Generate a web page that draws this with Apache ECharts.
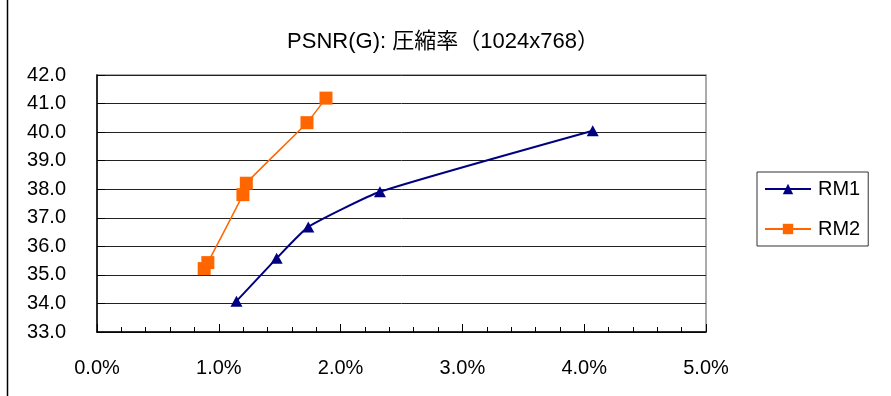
<!DOCTYPE html>
<html>
<head>
<meta charset="utf-8">
<script src="https://cdn.jsdelivr.net/npm/echarts@6/dist/echarts.min.js"></script>
<style>
  html, body { margin: 0; padding: 0; background: #fff; }
  #chart { width: 891px; height: 396px; }
</style>
</head>
<body>
<div id="chart"></div>
<script>
// Compression rate (%) and PSNR of the G channel (dB) for two methods
const rm1Rate = [1.145, 1.475, 1.735, 2.323, 4.07];
const rm1Psnr = [34.08, 35.58, 36.68, 37.91, 40.05];
const rm2Rate = [0.88, 0.91, 1.198, 1.226, 1.724, 1.88];
const rm2Psnr = [35.22, 35.43, 37.81, 38.21, 40.33, 41.19];
const seriesNames = ['RM1', 'RM2'];
const titleText = 'PSNR(G): 圧縮率（1024x768）';

const pairs = (xs, ys) => xs.map((x, i) => [x, ys[i]]);
const baseFont = '"Liberation Sans", Arial, "Noto Sans CJK JP", sans-serif';

const chart = echarts.init(document.getElementById('chart'), null, { renderer: 'canvas' });
chart.setOption({
  animation: false,
  backgroundColor: '#fff',
  title: {
    text: titleText,
    left: 438,
    top: 26,
    textAlign: 'center',
    textStyle: {
      fontFamily: '"Liberation Sans", "Noto Sans CJK JP", sans-serif',
      fontWeight: 'normal',
      fontSize: 22,
      color: '#000'
    }
  },
  grid: {
    left: 97, top: 75, right: 185, bottom: 64,
    show: true, borderColor: '#909090', borderWidth: 1.5, backgroundColor: 'transparent'
  },
  legend: {
    orient: 'vertical',
    left: 757, top: 172,
    width: 111,
    padding: [7, 8, 7, 7],
    itemWidth: 46, itemHeight: 13, itemGap: 20,
    borderColor: '#333', borderWidth: 1,
    textStyle: { fontFamily: baseFont, fontSize: 20, color: '#000', padding: [0, 0, 0, 2] },
    data: seriesNames
  },
  xAxis: {
    type: 'value', min: 0, max: 5, interval: 1,
    axisLine: { show: true, lineStyle: { color: '#000', width: 1.5 } },
    axisTick: { show: true, inside: true, length: 8, lineStyle: { color: '#000' } },
    minorTick: { show: true, splitNumber: 5, length: 5, lineStyle: { color: '#000' } },
    splitLine: { show: false },
    axisLabel: {
      margin: 26, fontFamily: baseFont, fontSize: 20, color: '#000',
      formatter: v => v.toFixed(1) + '%'
    }
  },
  yAxis: {
    type: 'value', min: 33, max: 42, interval: 1,
    axisLine: { show: true, lineStyle: { color: '#000', width: 1.5 } },
    axisTick: { show: true, inside: true, length: 8, lineStyle: { color: '#000' } },
    splitLine: { show: true, lineStyle: { color: '#222', width: 1 } },
    axisLabel: {
      margin: 31, fontFamily: baseFont, fontSize: 20, color: '#000',
      formatter: v => v.toFixed(1)
    }
  },
  series: [
    {
      name: seriesNames[0], type: 'line', data: pairs(rm1Rate, rm1Psnr),
      smooth: 0.15, symbol: 'triangle', symbolSize: [12, 11],
      lineStyle: { color: '#000080', width: 2 },
      itemStyle: { color: '#000080' }
    },
    {
      name: seriesNames[1], type: 'line', data: pairs(rm2Rate, rm2Psnr),
      smooth: 0.15, symbol: 'rect', symbolSize: 13,
      lineStyle: { color: '#FF6600', width: 1.5 },
      itemStyle: { color: '#FF6600' }
    }
  ],
  graphic: [
    { type: 'line', shape: { x1: 7.5, y1: 0, x2: 7.5, y2: 396 }, style: { stroke: '#000', lineWidth: 1.5 } }
  ]
});
</script>
</body>
</html>
